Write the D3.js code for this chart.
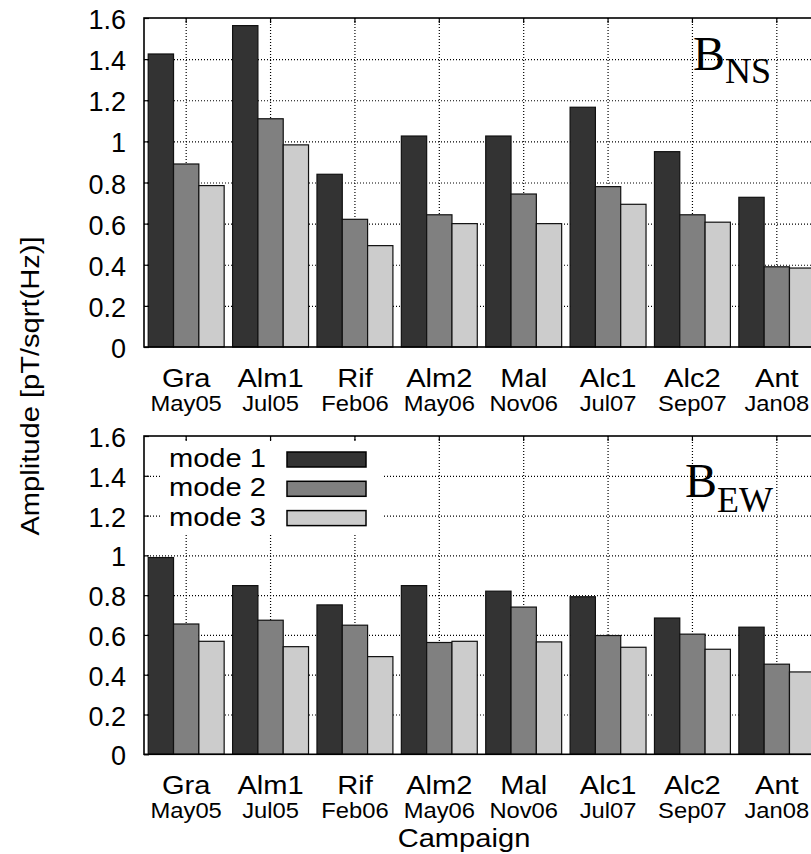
<!DOCTYPE html>
<html lang="en">
<head>
    <meta charset="UTF-8">
    <title>Mode amplitudes per campaign</title>
    <script src="https://d3js.org/d3.v7.min.js"></script>
    <style>
        body { margin: 0; background: #fff; }
        svg { display: block; font-family: "Liberation Sans", Arial, sans-serif; }
        .grid line { stroke: #333; stroke-width: 1; stroke-dasharray: 1,2; }
        .tick line { stroke: #000; stroke-width: 1.2; }
    </style>
</head>
<body>
    <svg width="811" height="854"></svg>
    <script>
        const categories = ["Gra", "Alm1", "Rif", "Alm2", "Mal", "Alc1", "Alc2", "Ant"];
        const dates = ["May05", "Jul05", "Feb06", "May06", "Nov06", "Jul07", "Sep07", "Jan08"];
        const modes = ["mode 1", "mode 2", "mode 3"];
        const yTicks = [0, 0.2, 0.4, 0.6, 0.8, 1, 1.2, 1.4, 1.6];

        // B_NS panel
        const nsMode1 = [1.425, 1.563, 0.84, 1.026, 1.026, 1.166, 0.95, 0.728];
        const nsMode2 = [0.89, 1.11, 0.621, 0.643, 0.744, 0.78, 0.643, 0.39];
        const nsMode3 = [0.785, 0.983, 0.493, 0.60, 0.60, 0.694, 0.607, 0.384];
        // B_EW panel
        const ewMode1 = [0.989, 0.848, 0.751, 0.848, 0.82, 0.792, 0.685, 0.639];
        const ewMode2 = [0.655, 0.674, 0.649, 0.562, 0.74, 0.597, 0.604, 0.453];
        const ewMode3 = [0.568, 0.541, 0.491, 0.568, 0.565, 0.538, 0.528, 0.414];

        const colors = ["#333333", "#808080", "#cccccc"];
        const left = 144, right = 819;   // right border falls outside the window, like the original

        const svg = d3.select("svg");

        const x = d3.scaleBand()
            .domain(categories)
            .range([left, right])
            .paddingInner(0.1)
            .paddingOuter(0.05);

        const xMode = d3.scaleBand()
            .domain(modes)
            .range([0, x.bandwidth()]);

        // stretched text helper (the original font is a bit wider than Arial)
        function label(parent, tx, ty, str, size, sx, anchor) {
            return parent.append("g")
                .attr("transform", `translate(${tx},${ty}) scale(${sx},1)`)
              .append("text")
                .attr("text-anchor", anchor || "middle")
                .attr("font-size", size)
                .attr("fill", "#000")
                .text(str);
        }

        function drawPanel(top, bottom, series, sub, subX, subY, dateGap, withLegend) {
            const y = d3.scaleLinear().domain([0, 1.6]).range([bottom, top]);
            const g = svg.append("g");

            // grid
            g.append("g")
                .attr("class", "grid")
                .attr("transform", `translate(0,${top})`)
                .call(d3.axisTop(x).tickSize(-(bottom - top)).tickFormat(""))
                .call(s => s.select(".domain").remove());
            g.append("g")
                .attr("class", "grid")
                .attr("transform", `translate(${left},0)`)
                .call(d3.axisLeft(y).tickValues(yTicks.slice(1, -1)).tickSize(-(right - left)).tickFormat(""))
                .call(s => s.select(".domain").remove());

            if (withLegend) {
                g.append("rect")
                    .attr("x", 161).attr("y", 441)
                    .attr("width", 222).attr("height", 94)
                    .attr("fill", "#fff");
            }

            // bars
            const rows = categories.map((c, i) => ({ cat: c, values: series.map(s => s[i]) }));
            g.selectAll(".group")
                .data(rows)
                .join("g")
                .attr("transform", d => `translate(${x(d.cat)},0)`)
                .selectAll("rect")
                .data(d => d.values.map((v, k) => ({ mode: modes[k], value: v, k: k })))
                .join("rect")
                .attr("x", d => xMode(d.mode))
                .attr("width", xMode.bandwidth())
                .attr("y", d => y(d.value))
                .attr("height", d => y(0) - y(d.value))
                .attr("fill", d => colors[d.k])
                .attr("stroke", "#111")
                .attr("stroke-width", 1.2);

            // left axis with inward ticks
            g.append("g")
                .attr("transform", `translate(${left},0)`)
                .call(d3.axisLeft(y).tickValues(yTicks).tickSize(-5).tickPadding(18).tickFormat(d => String(d)))
                .call(s => s.select(".domain").remove())
                .call(s => s.selectAll("text")
                    .attr("font-size", 27)
                    .attr("font-family", "Liberation Sans, Arial, sans-serif")
                    .attr("fill", "#000")
                    .attr("dy", "0.39em"));

            // top ticks
            g.append("g")
                .attr("transform", `translate(0,${top})`)
                .call(d3.axisTop(x).tickSize(-5).tickFormat(""))
                .call(s => s.select(".domain").remove());

            // frame
            g.append("rect")
                .attr("x", left).attr("y", top)
                .attr("width", right - left).attr("height", bottom - top)
                .attr("fill", "none")
                .attr("stroke", "#000")
                .attr("stroke-width", 1.6);

            // category labels, two lines
            const xa = g.append("g")
                .attr("transform", `translate(0,${bottom})`)
                .call(d3.axisBottom(x).tickSize(0).tickFormat(""))
                .call(s => s.select(".domain").remove());
            xa.selectAll(".tick").each(function(d, i) {
                const t = d3.select(this);
                label(t, 0, 40, d, 26, 1.12);
                label(t, 0, 40 + dateGap, dates[i], 22, 1.08);
            });

            // component label
            const sl = g.append("text")
                .attr("x", subX).attr("y", subY)
                .attr("font-family", "Liberation Serif, Times New Roman, serif")
                .attr("fill", "#000");
            sl.append("tspan").attr("font-size", 48).text("B");
            sl.append("tspan").attr("font-size", 36).attr("dy", sub.dy).text(sub.text);

            if (withLegend) {
                modes.forEach((m, k) => {
                    const by = 452 + k * 29.3;
                    label(g, 266, by + 15, m, 26, 1.12, "end");
                    g.append("rect")
                        .attr("x", 287).attr("y", by)
                        .attr("width", 79).attr("height", 15)
                        .attr("fill", colors[k])
                        .attr("stroke", "#000")
                        .attr("stroke-width", 1.5);
                });
            }
        }

        drawPanel(18, 347, [nsMode1, nsMode2, nsMode3], { text: "NS", dy: 13 }, 693, 70, 24, false);
        drawPanel(436, 754.3, [ewMode1, ewMode2, ewMode3], { text: "EW", dy: 15 }, 685, 497, 24, true);

        // axis titles
        const yl = svg.append("g").attr("transform", "translate(38.5,386) rotate(-90)");
        label(yl, 0, 0, "Amplitude [pT/sqrt(Hz)]", 26, 1.12);
        label(svg, 464, 847, "Campaign", 26, 1.12);
    </script>
</body>
</html>
